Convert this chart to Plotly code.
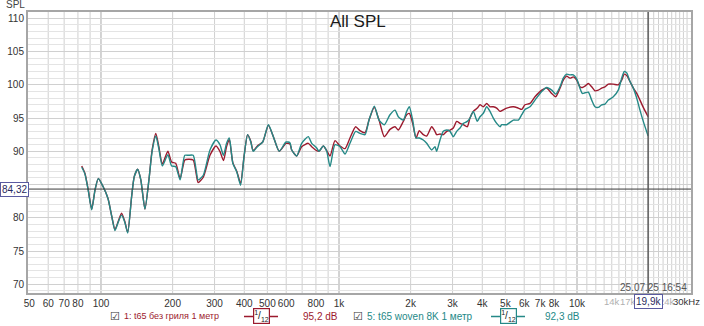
import math
import plotly.graph_objects as go

# ---------------- data ----------------
freq_hz = [83, 85.6, 88.4, 91.4, 94.4, 97.4, 102, 107, 111, 114.5, 118, 122, 126, 129.5, 134.5, 138, 142.6, 147, 153, 159,
           164, 170, 175, 181, 191, 198, 206, 215, 225, 233, 244, 251, 256, 269, 287, 304, 316, 327, 337, 346,
           358, 372, 386, 399, 413, 426, 436, 454, 478, 505, 530, 561, 599, 622, 633, 664, 697, 743, 768, 806,
           824, 859, 888, 917, 962, 1010, 1060, 1112, 1175, 1225, 1286, 1337, 1407, 1473, 1550, 1638, 1719, 1775, 1863, 1925,
           1974, 2040, 2106, 2175, 2260, 2336, 2452, 2531, 2573, 2657, 2743, 2835, 2927, 3022, 3123, 3225, 3330, 3460, 3551, 3667,
           3811, 3912, 4039, 4174, 4310, 4450, 4599, 4749, 4827, 5065, 5400, 5667, 5856, 6047, 6346, 6661, 7108, 7460, 7829, 8138,
           8484, 8758, 9051, 9345, 9650, 9971, 10290, 10530, 10800, 11160, 11530, 11900, 12290, 12700, 13110, 13540, 14210, 14910, 15410, 15800,
           16180, 16700, 17250, 17820, 18390, 18990, 19900]

spl_no_grille = [87.8, 86.7, 84.2, 81.3, 84.2, 85.9, 84.7, 82.9, 80.2, 78.2, 79.4, 80.7, 79.4, 77.8, 83.2, 86.2, 87.3, 85.7, 81.3, 85.7,
                 90.2, 92.7, 90.7, 88.1, 90.0, 88.4, 88.2, 85.9, 88.7, 88.8, 88.7, 86.7, 85.3, 86.1, 89.4, 90.8, 90.0, 88.6, 90.7, 91.8,
                 88.3, 87.0, 85.2, 89.2, 92.5, 91.5, 90.1, 90.8, 91.4, 93.9, 92.2, 90.0, 91.2, 91.1, 90.2, 89.3, 90.7, 91.2, 90.7, 90.1,
                 90.0, 90.8, 90.1, 89.3, 91.6, 90.8, 90.4, 92.0, 93.7, 93.1, 92.8, 94.7, 96.6, 94.7, 92.2, 93.3, 93.7, 93.2, 94.5, 95.5,
                 95.7, 94.2, 92.0, 93.1, 92.5, 92.3, 93.7, 93.0, 92.5, 92.6, 92.5, 93.0, 93.2, 93.5, 94.5, 94.2, 94.0, 93.7, 95.0, 96.0,
                 96.5, 97.0, 96.7, 97.2, 96.7, 96.7, 96.5, 96.0, 96.1, 96.5, 96.7, 96.5, 96.3, 97.0, 97.2, 98.2, 99.2, 99.5, 98.7, 98.2,
                 99.5, 100.7, 101.3, 101.0, 101.2, 100.7, 99.7, 99.6, 99.8, 100.2, 99.7, 99.1, 99.2, 99.5, 99.7, 100.1, 100.1, 100.0, 100.7, 101.6,
                 101.4, 100.5, 99.5, 98.7, 97.7, 96.6, 95.2]

spl_woven = [87.6, 86.6, 84.1, 81.2, 84.2, 85.9, 84.7, 82.9, 80.2, 78.1, 79.3, 80.4, 79.3, 77.7, 83.2, 86.2, 87.3, 85.7, 81.3, 85.7,
             90.0, 92.3, 90.4, 87.8, 89.5, 87.8, 87.7, 85.7, 89.4, 89.4, 89.4, 87.2, 85.7, 86.4, 90.2, 91.7, 91.0, 89.4, 91.2, 92.0,
             88.2, 86.9, 84.9, 89.2, 92.5, 91.4, 90.0, 90.7, 91.4, 94.0, 92.2, 90.0, 91.4, 91.3, 90.2, 89.3, 91.2, 92.2, 91.2, 90.5,
             90.0, 90.8, 90.0, 87.7, 91.0, 90.7, 89.6, 91.2, 93.0, 92.7, 92.5, 94.7, 96.8, 94.7, 94.0, 95.5, 96.2, 95.2, 94.7, 96.0,
             96.7, 94.7, 92.0, 92.0, 91.7, 91.2, 90.2, 90.7, 90.0, 91.7, 93.0, 93.2, 93.0, 92.2, 93.0, 93.5, 94.2, 94.5, 95.0, 96.0,
             94.5, 95.2, 95.7, 96.7, 96.0, 95.0, 94.2, 93.7, 94.0, 94.0, 94.7, 94.7, 95.5, 96.3, 96.7, 97.7, 99.0, 99.6, 99.2, 98.6,
             99.7, 101.0, 101.6, 101.5, 101.5, 100.9, 99.5, 98.7, 98.8, 98.9, 97.7, 96.7, 96.6, 97.0, 97.1, 97.7, 98.2, 99.2, 101.0, 102.0,
             101.8, 100.5, 99.5, 98.0, 96.2, 94.5, 92.3]

series_names = ["1: t65 без гриля 1 метр", "5: t65 woven 8K 1 метр"]
series_levels = ["95,2 dB", "92,3 dB"]
series_colors = ["#9c1a2e", "#258987"]

y_tick_vals = [70, 75, 80, 85, 90, 95, 100, 105, 110]
y_tick_text = ["70", "75", "80", "", "90", "95", "100", "105", "110"]
x_tick_vals = [50, 60, 70, 80, 100, 200, 300, 400, 500, 600, 800, 1000, 2000, 3000, 4000, 5000, 6000, 7000, 8000, 10000]
x_tick_text = ["50", "60", "70", "80", "100", "200", "300", "400", "500", "600", "800", "1k", "2k", "3k", "4k", "5k", "6k",
               "7k", "8k", "10k"]
last_tick_text = "30kHz"
grey_tick_vals = [14000, 17000, 24000]
grey_tick_text = ["14k", "17k", "24k"]
decade_lines = [100, 1000, 10000]
grid_lines = ([60, 70, 80, 90] + [200, 300, 400, 500, 600, 700, 800, 900] +
              [2000, 3000, 4000, 5000, 6000, 7000, 8000, 9000] +
              [11000, 12000, 13000, 14000, 15000, 16000, 17000, 18000, 19000, 20000, 21000, 22000, 23000, 24000,
               25000, 26000, 27000, 28000, 29000])
cursor_spl = 84.32
cursor_freq = 19900
cursor_spl_text = "84,32"
cursor_freq_text = "19,9k"
title_text = "All SPL"
y_label = "SPL"
date_text = "25.07.25 16:54"

# ---------------- layout helpers (pixel -> paper) ----------------
W, H = 704, 326
PL, PR, PT, PB = 28, 691, 12, 293


def ax(px):
    return (px - PL) / (PR - PL)


def ay(py):
    return (PB - py) / (PB - PT)


FONT = "Liberation Sans, Arial, sans-serif"


def note(text, x, y, xref="paper", xanchor="center", size=10, color="#333", family=FONT, **kw):
    d = dict(text=text, x=x, y=y, xref=xref, yref="paper", xanchor=xanchor, yanchor="middle",
             showarrow=False, font=dict(size=size, color=color, family=family))
    d.update(kw)
    return d


fig = go.Figure()
for name, vals, col in zip(series_names, [spl_no_grille, spl_woven], series_colors):
    fig.add_trace(go.Scatter(x=freq_hz, y=vals, mode="lines", name=name,
                             line=dict(color=col, width=1.4, shape="spline", smoothing=0.6),
                             showlegend=False, hoverinfo="skip"))

# shapes on a log axis take raw data values
shapes = []
for g in grid_lines:
    shapes.append(dict(type="line", xref="x", yref="paper", x0=g, x1=g, y0=0, y1=1,
                       line=dict(color="#d0d0d0", width=1), layer="below"))
for d in decade_lines:
    shapes.append(dict(type="line", xref="x", yref="paper", x0=d, x1=d, y0=0, y1=1,
                       line=dict(color="#a8a8a8", width=1), layer="below"))
# cursors
shapes.append(dict(type="line", xref="paper", yref="y", x0=0, x1=1, y0=cursor_spl, y1=cursor_spl,
                   line=dict(color="#3a3a3a", width=1)))
shapes.append(dict(type="line", xref="x", yref="paper", x0=cursor_freq, x1=cursor_freq,
                   y0=0, y1=1, line=dict(color="#5a5a5a", width=1.5)))

annotations = []
annotations.append(note(y_label, ax(16), ay(5), color="#444"))
annotations.append(note(title_text, ax(358), ay(21), size=17, color="#1a1a1a"))
annotations.append(note(date_text, ax(689), ay(287), xanchor="right", color="#555"))
grey_shift = [0, -4, 0]
for v, t, s in zip(grey_tick_vals, grey_tick_text, grey_shift):
    annotations.append(note(t, math.log10(v), ay(301.5), xref="x", color="#b0b0b0", xshift=s, size=9.5))
annotations.append(note(last_tick_text, ax(702), ay(301.5), xanchor="right", color="#333", size=9.5))
annotations.append(note(cursor_spl_text, ax(14), ay(189), color="#2a2a60",
                        bgcolor="white", bordercolor="#5a5aa0", borderwidth=1, borderpad=1))
annotations.append(note(cursor_freq_text, math.log10(cursor_freq), ay(301), xref="x", color="#2a2a60",
                        bgcolor="white", bordercolor="#5a5aa0", borderwidth=1, borderpad=1))

# legend row
leg_y = ay(316.5)
legend_layout = [(115, 122, 261, 320, 9), (358, 365, 508, 562, 10)]
for (cb, tx, icon, lvl, fs), name, level, col in zip(legend_layout, series_names, series_levels, series_colors):
    annotations.append(note("☑", ax(cb), leg_y, size=11, color="#333", family="DejaVu Sans"))
    annotations.append(note(name, ax(tx), leg_y, xanchor="left", color=col, size=fs))
    shapes.append(dict(type="line", xref="paper", yref="paper", x0=ax(icon - 17), x1=ax(icon + 17),
                       y0=leg_y, y1=leg_y, line=dict(color=col, width=1.3)))
    annotations.append(note("<sup>1</sup>/<sub>12</sub>", ax(icon), leg_y, color="#222",
                            bgcolor="white", bordercolor=col, borderwidth=1.2, borderpad=0))
    annotations.append(note(level, ax(lvl), leg_y, color=col))

fig.update_layout(
    width=W, height=H,
    margin=dict(l=PL, r=W - PR, t=PT, b=H - PB, autoexpand=False),
    paper_bgcolor="white", plot_bgcolor="white",
    shapes=shapes, annotations=annotations,
    xaxis=dict(type="log", range=[1.6933, 4.479], tickvals=x_tick_vals, ticktext=x_tick_text,
               showgrid=False, ticks="", ticklen=0, tickangle=0, automargin=False,
               tickfont=dict(size=10, color="#333", family=FONT),
               showline=True, mirror=True, linecolor="#a6a6a6", linewidth=2, zeroline=False, fixedrange=True),
    yaxis=dict(range=[68.69, 110.95], tickvals=y_tick_vals, ticktext=y_tick_text, automargin=False,
               showgrid=True, gridcolor="#d0d0d0", gridwidth=1, ticks="",
               tickfont=dict(size=10, color="#333", family=FONT),
               minor=dict(dtick=1, showgrid=True, gridcolor="#e4e4e4", ticks=""),
               showline=True, mirror=True, linecolor="#a6a6a6", linewidth=2, zeroline=False, fixedrange=True),
)

fig.write_html("out.html")
